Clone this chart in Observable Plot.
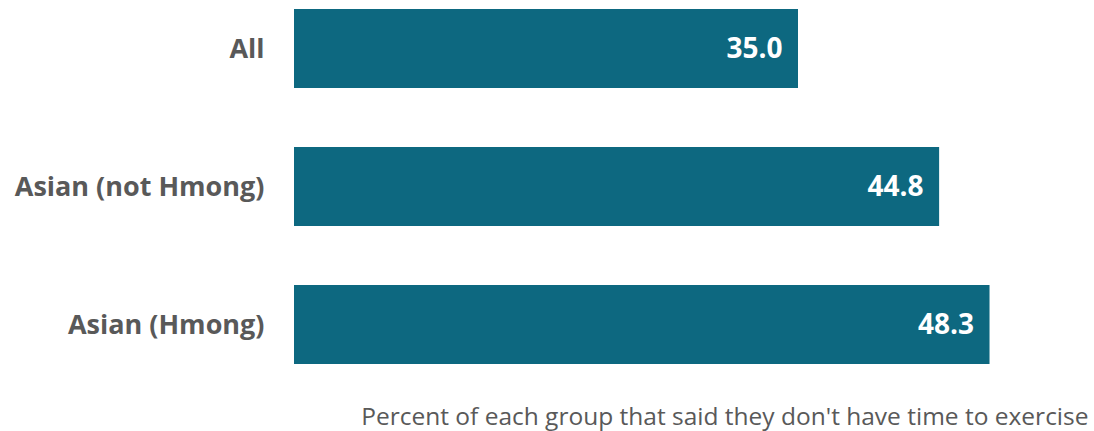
<!DOCTYPE html>
<html>
<head>
<meta charset="utf-8">
<script src="https://cdn.jsdelivr.net/npm/d3@7"></script>
<script src="https://cdn.jsdelivr.net/npm/@observablehq/plot@0.6"></script>
<style>
  body { margin: 0; background: #fff; }
  svg { display: block; }
</style>
</head>
<body>
<div id="chart"></div>
<script>
const categories = ["All", "Asian (not Hmong)", "Asian (Hmong)"];
const values = [35.0, 44.8, 48.3];
const captionText = "Percent of each group that said they don't have time to exercise";

const data = categories.map((c, i) => ({group: c, value: values[i]}));

const chart = Plot.plot({
  width: 1094,
  height: 431,
  marginLeft: 294,
  marginRight: 8,
  marginTop: 8,
  marginBottom: 65,
  style: {fontFamily: "'Open Sans', sans-serif", background: "#fff"},
  x: {domain: [0, 55], axis: null},
  y: {domain: categories, paddingInner: 0.424, paddingOuter: 0, label: null},
  marks: [
    Plot.barX(data, {x: "value", y: "group", fill: "#0d6880"}),
    Plot.text(data, {
      x: "value", y: "group", text: d => d.value.toFixed(1),
      textAnchor: "end", dx: -16, fill: "#ffffff",
      fontSize: 28, fontWeight: "bold"
    }),
    Plot.axisY({
      tickSize: 0, tickPadding: 30, fontSize: 27, fontWeight: "bold",
      color: "#595959", label: null
    }),
    Plot.text([captionText], {
      text: d => d, frameAnchor: "bottom-right", textAnchor: "end",
      lineAnchor: "middle", dy: 51, dx: 2, fill: "#595959", fontSize: 24.5
    })
  ]
});
document.getElementById("chart").appendChild(chart);
</script>
</body>
</html>
